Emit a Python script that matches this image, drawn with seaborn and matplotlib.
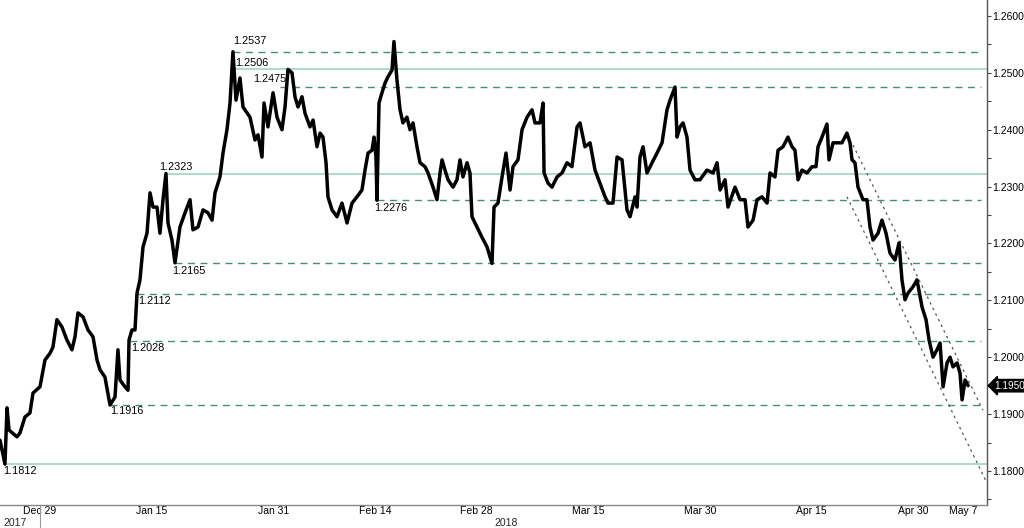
import numpy as np
import pandas as pd
import seaborn as sns
import matplotlib.pyplot as plt

# time axis: business days counted from Fri 2017-12-29 (weekends removed)
t = [-3.94, -3.45, -3.25, -3.05, -2.27, -1.97, -1.48, -0.99, -0.69, 0.00,
     0.49, 0.99, 1.28, 1.67, 2.17, 2.66, 3.15, 3.45, 3.74, 4.24,
     4.73, 5.22, 5.62, 5.91, 6.40, 6.90, 7.39, 7.68, 7.88, 8.37,
     8.67, 8.77, 9.06, 9.36, 9.56, 9.85, 10.15, 10.54, 10.84, 11.13,
     11.53, 11.82, 12.12, 12.41, 12.61, 13.00, 13.30, 13.79, 14.29, 14.78,
     15.07, 15.57, 16.06, 16.55, 16.95, 17.24, 17.73, 18.03, 18.42, 18.72,
     19.01, 19.31, 19.70, 20.00, 20.69, 21.18, 21.48, 21.87, 22.07, 22.46,
     22.96, 23.35, 23.84, 24.14, 24.43, 24.83, 25.12, 25.42, 25.81, 26.11,
     26.60, 26.90, 27.29, 27.59, 27.88, 28.18, 28.37, 28.77, 29.26, 29.75,
     30.25, 30.74, 31.23, 31.72, 32.02, 32.32, 32.71, 32.91, 33.10, 33.20,
     33.40, 33.69, 33.99, 34.28, 34.68, 34.87, 35.17, 35.47, 35.76, 36.15,
     36.45, 36.75, 37.14, 37.44, 37.93, 38.23, 38.72, 39.11, 39.41, 39.61,
     39.90, 40.20, 40.69, 41.08, 41.38, 41.67, 42.07, 42.36, 42.56, 43.05,
     43.54, 44.04, 44.53, 44.73, 45.12, 45.52, 45.91, 46.31, 46.60, 47.09,
     47.49, 47.98, 48.47, 48.77, 49.26, 49.56, 49.66, 50.05, 50.44, 50.94,
     51.43, 51.92, 52.41, 52.91, 53.20, 53.69, 54.19, 54.68, 55.17, 55.67,
     55.96, 56.45, 56.85, 57.34, 57.83, 58.13, 58.62, 58.82, 59.11, 59.41,
     59.80, 60.30, 60.79, 61.28, 61.77, 62.07, 62.56, 62.76, 63.05, 63.35,
     63.74, 64.04, 64.53, 65.02, 65.71, 66.31, 66.70, 67.00, 67.49, 67.78,
     68.47, 68.97, 69.46, 69.75, 70.25, 70.64, 71.13, 71.63, 71.92, 72.41,
     72.71, 73.20, 73.69, 74.09, 74.38, 74.68, 75.07, 75.57, 76.06, 76.45,
     76.65, 77.04, 77.53, 77.73, 78.13, 78.62, 79.01, 79.50, 79.80, 80.00,
     80.29, 80.59, 81.08, 81.47, 81.77, 82.07, 82.56, 82.95, 83.35, 83.74,
     84.23, 84.63, 84.92, 85.22, 85.52, 86.01, 86.40, 86.90, 87.29, 87.59,
     87.98, 88.37, 88.67, 88.97, 89.36, 89.66, 89.95, 90.35, 90.64, 90.84,
     91.14, 91.43]

price = [1.1854, 1.1812, 1.1911, 1.1872, 1.1860, 1.1867, 1.1895, 1.1902, 1.1937, 1.1948,
         1.1995, 1.2007, 1.2018, 1.2066, 1.2053, 1.2030, 1.2013, 1.2036, 1.2078, 1.2071,
         1.2048, 1.2036, 1.1995, 1.1978, 1.1965, 1.1916, 1.1930, 1.2013, 1.1960, 1.1948,
         1.1942, 1.2030, 1.2048, 1.2048, 1.2113, 1.2136, 1.2194, 1.2218, 1.2289, 1.2264,
         1.2264, 1.2218, 1.2277, 1.2323, 1.2236, 1.2206, 1.2166, 1.2229, 1.2254, 1.2277,
         1.2224, 1.2229, 1.2259, 1.2254, 1.2241, 1.2289, 1.2317, 1.2359, 1.2400, 1.2447,
         1.2537, 1.2452, 1.2491, 1.2440, 1.2422, 1.2382, 1.2391, 1.2352, 1.2447, 1.2405,
         1.2465, 1.2422, 1.2400, 1.2440, 1.2506, 1.2500, 1.2458, 1.2440, 1.2458, 1.2429,
         1.2405, 1.2417, 1.2370, 1.2394, 1.2387, 1.2342, 1.2282, 1.2259, 1.2247, 1.2271,
         1.2236, 1.2271, 1.2282, 1.2294, 1.2329, 1.2359, 1.2364, 1.2387, 1.2352, 1.2276,
         1.2447, 1.2465, 1.2482, 1.2493, 1.2505, 1.2555, 1.2487, 1.2435, 1.2412, 1.2422,
         1.2400, 1.2412, 1.2370, 1.2342, 1.2335, 1.2324, 1.2299, 1.2277, 1.2324, 1.2347,
         1.2329, 1.2312, 1.2299, 1.2312, 1.2347, 1.2317, 1.2342, 1.2324, 1.2247, 1.2229,
         1.2211, 1.2194, 1.2165, 1.2264, 1.2271, 1.2317, 1.2359, 1.2294, 1.2335, 1.2347,
         1.2400, 1.2422, 1.2435, 1.2412, 1.2412, 1.2447, 1.2324, 1.2306, 1.2299, 1.2317,
         1.2324, 1.2342, 1.2335, 1.2405, 1.2412, 1.2370, 1.2377, 1.2329, 1.2306, 1.2282,
         1.2271, 1.2271, 1.2352, 1.2347, 1.2259, 1.2247, 1.2282, 1.2264, 1.2352, 1.2370,
         1.2324, 1.2342, 1.2359, 1.2377, 1.2435, 1.2452, 1.2475, 1.2387, 1.2405, 1.2412,
         1.2387, 1.2329, 1.2312, 1.2312, 1.2329, 1.2324, 1.2342, 1.2294, 1.2312, 1.2264,
         1.2299, 1.2277, 1.2277, 1.2229, 1.2241, 1.2277, 1.2282, 1.2271, 1.2324, 1.2317,
         1.2364, 1.2370, 1.2387, 1.2370, 1.2364, 1.2312, 1.2329, 1.2324, 1.2335, 1.2335,
         1.2370, 1.2387, 1.2410, 1.2347, 1.2377, 1.2377, 1.2377, 1.2394, 1.2377, 1.2347,
         1.2342, 1.2299, 1.2277, 1.2277, 1.2229, 1.2206, 1.2218, 1.2241, 1.2218, 1.2183,
         1.2171, 1.2201, 1.2136, 1.2101, 1.2113, 1.2124, 1.2136, 1.2088, 1.2066, 1.2030,
         1.2000, 1.2013, 1.2025, 1.1948, 1.1990, 1.2000, 1.1983, 1.1990, 1.1972, 1.1925,
         1.1960, 1.1950]

# support / resistance levels and where they start (business days)
solid_levels = [1.2506, 1.2323, 1.1812]
solid_start = [19.0, 12.41, -3.6]
dashed_levels = [1.2537, 1.2475, 1.2276, 1.2165, 1.2112, 1.2028, 1.1916]
dashed_start = [19.01, 23.6, 33.2, 13.3, 9.56, 8.87, 6.9]

# falling channel
chan_up_t = [80.10, 92.89]
chan_up_p = [1.2373, 1.1907]
chan_lo_t = [79.50, 93.29]
chan_lo_p = [1.2282, 1.1779]

last_price = 1.1950

tick_dates = ['2017-12-29', '2018-01-15', '2018-01-31', '2018-02-14', '2018-02-28',
              '2018-03-15', '2018-03-30', '2018-04-15', '2018-04-30', '2018-05-07']
tick_labels = ['Dec 29', 'Jan 15', 'Jan 31', 'Feb 14', 'Feb 28',
               'Mar 15', 'Mar 30', 'Apr 15', 'Apr 30', 'May 7']
minor_dates = ['2018-01-05', '2018-01-23', '2018-02-07', '2018-02-21',
               '2018-03-08', '2018-03-23', '2018-04-09', '2018-04-23']

SOLID = '#a8d5cc'
DASHED = '#3f8f7c'
FS = 7.5

sns.set_style('white')
plt.rcParams['font.family'] = ['Liberation Sans', 'DejaVu Sans']

df = pd.DataFrame({'t': t, 'price': price})

fig = plt.figure(figsize=(10.24, 5.28), dpi=100)
ax = fig.add_axes([0, 0.0436, 0.9639, 0.9564])

xmax = 93.3
for lv, s in zip(solid_levels, solid_start):
    ax.hlines(lv, s, xmax, color=SOLID, lw=1.3, zorder=1)
for lv, s in zip(dashed_levels, dashed_start):
    ax.hlines(lv, s, 92.7, color=DASHED, lw=1.0, linestyles=(0, (5, 4)), zorder=1)

ax.plot(chan_up_t, chan_up_p, color='#555555', lw=0.9, ls=(0, (2, 3)), zorder=2)
ax.plot(chan_lo_t, chan_lo_p, color='#555555', lw=0.9, ls=(0, (2, 3)), zorder=2)

sns.lineplot(data=df, x='t', y='price', color='black', lw=2.5, ax=ax,
             sort=False, zorder=3)

# level labels: (offset dx, dy in points, ha, va)
label_pos = {1.2537: (0, 4, 'left', 'bottom'), 1.2506: (2, 1, 'left', 'bottom'),
             1.2475: (5, 2, 'right', 'bottom'), 1.2323: (-5, 1, 'left', 'bottom'),
             1.2276: (-2, -2, 'left', 'top'), 1.2165: (-2, -2, 'left', 'top'),
             1.2112: (1, -2, 'left', 'top'), 1.2028: (1, -1, 'left', 'top'),
             1.1916: (0, -1, 'left', 'top'), 1.1812: (0, -1, 'left', 'top')}
for lv, s in list(zip(solid_levels, solid_start)) + list(zip(dashed_levels, dashed_start)):
    dx, dy, ha, va = label_pos[lv]
    ax.annotate(f'{lv:.4f}', (s, lv), xytext=(dx, dy), textcoords='offset points',
                ha=ha, va=va, fontsize=FS + 0.3, color='black', zorder=4)

ax.set_xlim(-3.94, xmax)
ax.set_ylim(1.17402, 1.26281)

# x ticks at business-day positions
base = np.datetime64('2017-12-29')
major = [np.busday_count(base, np.datetime64(d)) for d in tick_dates]
minor = [np.busday_count(base, np.datetime64(d)) for d in minor_dates]
ax.set_xticks(major)
ax.set_xticklabels(tick_labels)
ax.set_xticks(minor, minor=True)

yt = np.arange(1.18, 1.2601, 0.01)
ax.set_yticks(yt)
ax.set_yticklabels([f'{v:.4f}' for v in yt])
ax.set_yticks(np.arange(1.175, 1.2601, 0.01), minor=True)
ax.yaxis.tick_right()

ax.tick_params(axis='y', which='both', direction='out', length=3, width=0.8,
               color='#444444', labelsize=FS, pad=1, labelcolor='black')
ax.tick_params(axis='x', which='both', direction='in', length=3, width=0.8,
               color='#777777', labelsize=FS, pad=0.5, labelcolor='black')
ax.set_xlabel('')
ax.set_ylabel('')

for side in ['top', 'left']:
    ax.spines[side].set_visible(False)
ax.spines['right'].set_color('#555555')
ax.spines['right'].set_linewidth(1.0)
ax.spines['bottom'].set_color('#888888')
ax.spines['bottom'].set_linewidth(1.0)

# year labels and separator
fig.text(0.003, 0.0, '2017', fontsize=FS, ha='left', va='bottom')
fig.text(0.483, 0.0, '2018', fontsize=FS, ha='left', va='bottom')
ax.plot([0, 0], [0.0, -0.06], transform=ax.get_xaxis_transform(),
        color='#999999', lw=0.8, clip_on=False)

# last price tag
ax.annotate(f'{last_price:.4f}', (1.0, last_price), xycoords=('axes fraction', 'data'),
            xytext=(5.5, 0), textcoords='offset points', ha='left', va='center',
            fontsize=FS - 0.3, color='white',
            bbox=dict(boxstyle='larrow,pad=0.12', fc='black', ec='black'))

fig.savefig('out.png', dpi=100)
